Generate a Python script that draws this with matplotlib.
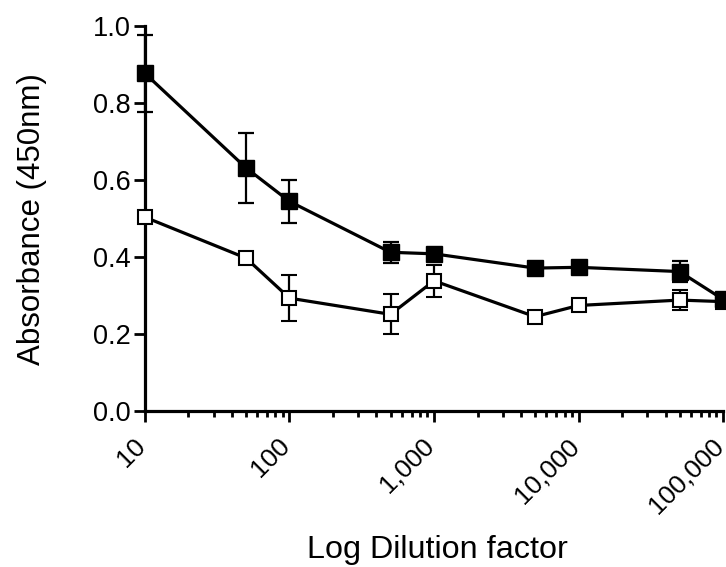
import matplotlib
matplotlib.use('Agg')
import matplotlib.pyplot as plt
import matplotlib.transforms as mtransforms
from matplotlib.ticker import FixedLocator, LogLocator, NullFormatter

# dilution factors and absorbance values
dilution = [10, 50, 100, 500, 1000, 5000, 10000, 50000, 100000]
tick_vals = [10, 100, 1000, 10000, 100000]
tick_labels = ['10', '100', '1,000', '10,000', '100,000']

filled_abs = [0.877, 0.632, 0.545, 0.413, 0.409, 0.372, 0.374, 0.363, 0.291]
filled_err = [0.100, 0.090, 0.055, 0.027, 0.0, 0.0, 0.012, 0.028, 0.0]
open_abs = [0.504, 0.398, 0.294, 0.252, 0.339, 0.246, 0.275, 0.289, 0.285]
open_err = [0.0, 0.0, 0.060, 0.052, 0.042, 0.0, 0.0, 0.025, 0.010]

plt.rcParams['font.family'] = ['Liberation Sans', 'DejaVu Sans']

fig = plt.figure(figsize=(7.26, 5.67), dpi=100)
ax = fig.add_axes([0.1997, 0.2743, 0.7962, 0.6798])

# open squares first, filled drawn on top
ax.errorbar(dilution, open_abs, yerr=open_err, color='black', lw=2.3,
            marker='s', ms=10, mfc='white', mec='black', mew=1.5,
            ecolor='black', elinewidth=1.6, capsize=6, capthick=1.6,
            clip_on=False, zorder=3)
ax.errorbar(dilution, filled_abs, yerr=filled_err, color='black', lw=2.3,
            marker='s', ms=11.5, mfc='black', mec='black',
            ecolor='black', elinewidth=1.6, capsize=6, capthick=1.6,
            clip_on=False, zorder=4)

ax.set_xscale('log')
ax.set_xlim(10, 100000)
ax.set_ylim(0, 1.0)

ax.xaxis.set_major_locator(FixedLocator(tick_vals))
ax.xaxis.set_major_formatter(NullFormatter())
ax.xaxis.set_minor_locator(LogLocator(base=10, subs=range(2, 10)))
ax.xaxis.set_minor_formatter(NullFormatter())

# rotated tick labels, placed by hand so their ends sit at the ticks
lbl_trans = mtransforms.offset_copy(ax.get_xaxis_transform(), fig=fig,
                                    x=-12, y=-22.5, units='dots')
for val, txt in zip(tick_vals, tick_labels):
    ax.text(val, 0, txt, transform=lbl_trans, rotation=45,
            rotation_mode='anchor', ha='right', va='top', fontsize=19,
            clip_on=False)

ax.set_yticks([0.0, 0.2, 0.4, 0.6, 0.8, 1.0])
ax.set_yticklabels(['0.0', '0.2', '0.4', '0.6', '0.8', '1.0'], fontsize=19.5)

for side in ['top', 'right']:
    ax.spines[side].set_visible(False)
for side in ['left', 'bottom']:
    ax.spines[side].set_linewidth(2.3)

ax.tick_params(axis='both', which='major', length=8, width=2, pad=2)
ax.tick_params(axis='x', which='minor', length=4.5, width=2)

ax.set_ylabel('Absorbance (450nm)', fontsize=22.5)
ax.yaxis.set_label_coords(-0.169, 0.5)
ax.set_xlabel('Log Dilution factor', fontsize=23.3)
ax.xaxis.set_label_coords(0.506, -0.32)

fig.savefig('out.png', dpi=100)
